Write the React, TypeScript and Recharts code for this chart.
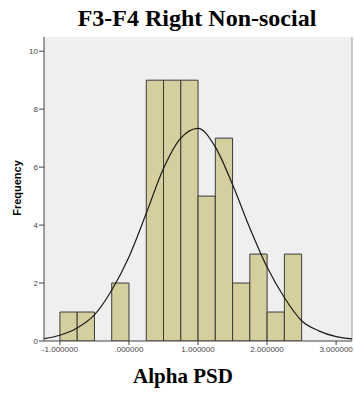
import React from 'react';
import {
  ComposedChart,
  Bar,
  Line,
  XAxis,
  YAxis,
  CartesianGrid,
  ReferenceLine,
  Rectangle,
} from 'recharts';

// histogram bins (width 0.25), centers and counts
const binCenters = [-0.875, -0.625, -0.375, -0.125, 0.125, 0.375, 0.625, 0.875, 1.125, 1.375, 1.625, 1.875, 2.125, 2.375];
const binCounts = [1, 1, 0, 2, 0, 9, 9, 9, 5, 7, 2, 3, 1, 3];

// fitted normal curve
const curveX = [-1.23, -1, -0.75, -0.5, -0.25, 0, 0.25, 0.5, 0.75, 1, 1.25, 1.5, 1.75, 2, 2.25, 2.5, 2.75, 3, 3.23];
const curveY = [0.08, 0.2, 0.45, 0.9, 1.75, 2.9, 4.4, 5.95, 7.0, 7.34, 6.7, 5.4, 3.9, 2.55, 1.5, 0.7, 0.35, 0.15, 0.07];

const xTicks = [-1, 0, 1, 2, 3];
const yTicks = [0, 2, 4, 6, 8, 10];

const X_MIN = -1.23;
const X_MAX = 3.23;
const BIN_WIDTH = 0.25;

const W = 354;
const H = 393;
const M = { top: 37, right: 2, bottom: 0, left: 0 };
const Y_AXIS_W = 44;
const X_AXIS_H = 52;
const plotW = W - M.left - M.right - Y_AXIS_W;
const barSize = (plotW * BIN_WIDTH) / (X_MAX - X_MIN);

const bins = binCenters.map((x, i) => ({ x, count: binCounts[i] }));
const curve = curveX.map((x, i) => ({ x, density: curveY[i] }));

const fmtX = (v: number) => (v === 0 ? '.000000' : v.toFixed(6));

// recharts narrows bars on a number axis, so widen each one around its centre
const BinShape = (props: any) => {
  const { x, width } = props;
  if (!props.height) return null;
  const cx = x + width / 2;
  return <Rectangle {...props} x={cx - barSize / 2} width={barSize} />;
};

export default function App() {
  return (
    <div style={{ position: 'absolute', left: 0, top: 0, width: W, height: H, background: '#fff' }}>
      <ComposedChart width={W} height={H} data={bins} margin={M}>
        <CartesianGrid fill="#efefef" stroke="none" horizontal={false} vertical={false} />
        <XAxis
          type="number"
          dataKey="x"
          domain={[X_MIN, X_MAX]}
          ticks={xTicks}
          tickFormatter={fmtX}
          allowDataOverflow
          height={X_AXIS_H}
          stroke="#444"
          tick={{ fontSize: 8, fill: '#444', fontFamily: 'Arial, "Liberation Sans", sans-serif' }}
          tickSize={4}
          tickMargin={1}
        />
        <YAxis
          type="number"
          domain={[0, 10.49]}
          ticks={yTicks}
          allowDataOverflow
          width={Y_AXIS_W}
          stroke="#444"
          tick={{ fontSize: 8, fill: '#444', fontFamily: 'Arial, "Liberation Sans", sans-serif' }}
          tickSize={5}
          tickMargin={1}
        />
        <ReferenceLine x={X_MAX} stroke="#9a9a9a" strokeWidth={1} />
        <Bar
          dataKey="count"
          shape={BinShape}
          fill="#d4cf9c"
          stroke="#3a3a3a"
          strokeWidth={1}
          isAnimationActive={false}
        />
        <Line
          data={curve}
          dataKey="density"
          type="monotone"
          stroke="#1a1a1a"
          strokeWidth={1.2}
          dot={false}
          activeDot={false}
          isAnimationActive={false}
        />
      </ComposedChart>
      <svg
        width={W}
        height={H}
        style={{ position: 'absolute', left: 0, top: 0, pointerEvents: 'none' }}
      >
        <text
          x={197}
          y={26}
          textAnchor="middle"
          fontFamily='"Times New Roman", "Liberation Serif", serif'
          fontWeight="bold"
          fontSize={24}
          fill="#000"
        >
          F3-F4 Right Non-social
        </text>
        <text
          x={183}
          y={383}
          textAnchor="middle"
          fontFamily='"Times New Roman", "Liberation Serif", serif'
          fontWeight="bold"
          fontSize={21}
          fill="#000"
        >
          Alpha PSD
        </text>
        <text
          x={21.4}
          y={188}
          transform="rotate(-90 21.4 188)"
          textAnchor="middle"
          fontFamily='Arial, "Liberation Sans", sans-serif'
          fontWeight="bold"
          fontSize={11}
          fill="#000"
        >
          Frequency
        </text>
      </svg>
    </div>
  );
}
